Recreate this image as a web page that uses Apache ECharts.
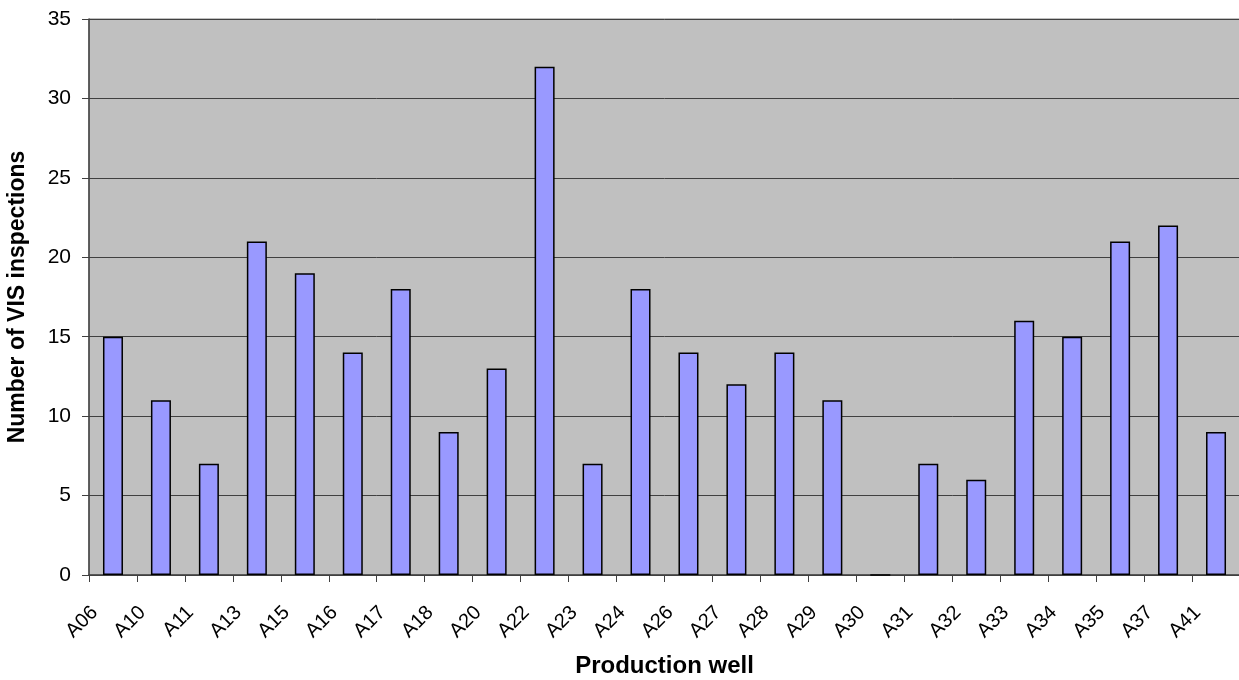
<!DOCTYPE html>
<html>
<head>
<meta charset="utf-8">
<script src="https://cdn.jsdelivr.net/npm/echarts@6/dist/echarts.min.js"></script>
<style>
  html, body { margin: 0; padding: 0; background: #fff; }
  #chart { width: 1239px; height: 680px; }
</style>
</head>
<body>
<div id="chart"></div>
<script>
// Production wells and the number of VIS inspections carried out on each
const wells = ['A06','A10','A11','A13','A15','A16','A17','A18','A20','A22','A23','A24',
               'A26','A27','A28','A29','A30','A31','A32','A33','A34','A35','A37','A41'];
const inspections = [15, 11, 7, 21, 19, 14, 18, 9, 13, 32, 7, 18,
                     14, 12, 14, 11, 0, 7, 6, 16, 15, 21, 22, 9];
const yTicks = { min: 0, max: 35, step: 5 };

const font = 'Arial, "Liberation Sans", sans-serif';
const chart = echarts.init(document.getElementById('chart'), null, { renderer: 'canvas' });

chart.setOption({
  animation: false,
  backgroundColor: '#ffffff',
  grid: {
    left: 89, right: -1, top: 19, bottom: 105,
    containLabel: false,
    outerBoundsMode: 'none',
    show: true,
    backgroundColor: '#c0c0c0',
    borderColor: '#808080',
    borderWidth: 1
  },
  xAxis: {
    type: 'category',
    data: wells,
    name: 'Production well',
    nameLocation: 'middle',
    nameGap: 79,
    nameTextStyle: { fontFamily: font, fontSize: 24, fontWeight: 'bold', color: '#000' },
    axisLine: { lineStyle: { color: '#404040', width: 1.5 } },
    axisTick: { show: true, alignWithLabel: false, length: 7, lineStyle: { color: '#404040' } },
    axisLabel: {
      rotate: 45, interval: 0, margin: 16,
      padding: [0, 26, 0, 0],
      fontFamily: font, fontSize: 20, color: '#000'
    },
    splitLine: { show: false }
  },
  yAxis: {
    type: 'value',
    min: yTicks.min, max: yTicks.max, interval: yTicks.step,
    name: 'Number of VIS inspections',
    nameLocation: 'middle',
    nameGap: 60,
    nameTextStyle: { fontFamily: font, fontSize: 23, fontWeight: 'bold', color: '#000' },
    axisLine: { show: true, lineStyle: { color: '#404040', width: 1.5 } },
    axisTick: { show: true, length: 7, lineStyle: { color: '#404040' } },
    axisLabel: { margin: 18, fontFamily: font, fontSize: 21, color: '#000' },
    splitLine: { show: true, lineStyle: { color: '#404040', width: 1 } }
  },
  series: [{
    type: 'bar',
    data: inspections,
    barWidth: 20,
    itemStyle: { color: '#9999ff', borderColor: '#000', borderWidth: 1.5 }
  }]
});
</script>
</body>
</html>
